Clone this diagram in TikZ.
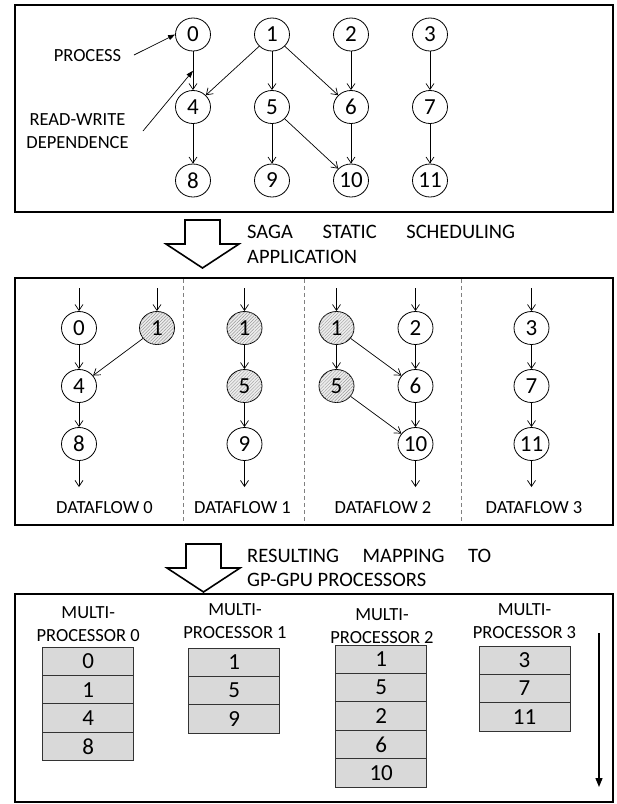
\documentclass[tikz,border=0pt]{standalone}
\usepackage{fontspec}
\setmainfont{Carlito}
\usetikzlibrary{arrows.meta,patterns.meta,calc,shapes.geometric}

\begin{document}
\begin{tikzpicture}[x=1pt,y=-1pt,
  frame/.style={draw, line width=2pt},
  proc/.style={draw, ellipse, line width=0.8pt, minimum width=35, minimum height=33,
    inner sep=0, font=\fontsize{23}{23}\selectfont, fill=white},
  shared/.style={proc, fill=gray!14,
    postaction={pattern={Lines[angle=45,distance=2.3pt,line width=0.45pt]}, pattern color=gray!80}},
  dep/.style={-{Straight Barb[length=6pt,width=8pt]}, line width=0.7pt},
  note/.style={-{Triangle[length=7pt,width=5pt]}, line width=0.7pt},
  lbl/.style={font=\fontsize{18.5}{23}\selectfont, align=center, inner sep=0},
  captxt/.style={font=\fontsize{20.5}{24.5}\selectfont, inner sep=0, anchor=base west},
  slot/.style={draw=black!80, fill=black!15, line width=0.8pt, minimum width=91,
    minimum height=28.4, inner sep=0, font=\fontsize{23}{23}\selectfont},
  sep/.style={draw=gray, line width=0.7pt, dash pattern=on 4pt off 3pt},
  bigdown/.pic={\draw[line width=1.6pt, fill=white, line join=miter]
    (-17.5,0) -- (17.5,0) -- (17.5,24) -- (36.5,24) -- (0,48) -- (-36.5,24) -- (-17.5,24) -- cycle;}
]
\useasboundingbox (0,0) rectangle (617,804);

% ---------- process graph ----------
\draw[frame] (15,5) rectangle (613,212);
\foreach \n/\x/\y in {0/193/34.5, 1/272/34.5, 2/351/34.5, 3/430/34.5,
                      4/193/107, 5/272/107, 6/351/107, 7/430/107,
                      8/193/180.5, 9/272/180.5, 10/351/180.5, 11/430/180.5}
  \node[proc] (g\n) at (\x,\y) {\n};
\foreach \a/\b in {0/4, 1/4, 1/5, 1/6, 2/6, 3/7, 4/8, 5/9, 5/10, 6/10, 7/11}
  \draw[dep] (g\a) -- (g\b);

\node[lbl] (lproc) at (87.5,56) {PROCESS};
\node[lbl] (lrw) at (77.5,131.5) {READ-WRITE\\DEPENDENCE};
\coordinate (procstart) at (134,55);
\coordinate (rwstart) at (143,131);
\coordinate (rwtip) at ($(g0)!0.5!(g4)$);
\draw[note] (procstart) -- (g0.west);
\draw[note] (rwstart) -- (rwtip);

% ---------- scheduling step ----------
\pic at (202.5,220) {bigdown};
\node[captxt] (c1a) at (247,238) {\makebox[268pt][s]{SAGA STATIC SCHEDULING}};
\node[captxt] (c1b) at (247,263) {APPLICATION};

% ---------- dataflows ----------
\draw[frame] (15,278) rectangle (613,525);
\foreach \xx [count=\k] in {183.5,304.5,461.5} {
  \coordinate (st\k) at (\xx,279);
  \coordinate (sb\k) at (\xx,524);
  \draw[sep] (st\k) -- (sb\k);
}
% dataflow 0
\node[proc]   (a0)  at (79,328)  {0};
\node[shared] (a1)  at (157,328) {1};
\node[proc]   (a4)  at (79,386)  {4};
\node[proc]   (a8)  at (79,444)  {8};
% dataflow 1
\node[shared] (b1)  at (244.5,328) {1};
\node[shared] (b5)  at (244.5,386) {5};
\node[proc]   (b9)  at (244.5,444) {9};
% dataflow 2
\node[shared] (c1)  at (336.5,328) {1};
\node[proc]   (c2)  at (415.5,328) {2};
\node[shared] (c5)  at (336.5,386) {5};
\node[proc]   (c6)  at (415.5,386) {6};
\node[proc]   (c10) at (415.5,444) {10};
% dataflow 3
\node[proc]   (d3)  at (531.5,328) {3};
\node[proc]   (d7)  at (531.5,386) {7};
\node[proc]   (d11) at (531.5,444) {11};

\foreach \n in {a0,a1,b1,c1,c2,d3} {
  \coordinate (in-\n) at ($(\n)+(0,-40)$);
  \draw[dep] (in-\n) -- (\n);
}
\foreach \n in {a8,b9,c10,d11} {
  \coordinate (out-\n) at ($(\n)+(0,43)$);
  \draw[dep] (\n) -- (out-\n);
}
\foreach \a/\b in {a0/a4, a1/a4, a4/a8, b1/b5, b5/b9, c1/c5, c1/c6, c2/c6, c5/c10, c6/c10, d3/d7, d7/d11}
  \draw[dep] (\a) -- (\b);

\node[lbl] (df0) at (104.5,508) {DATAFLOW 0};
\node[lbl] (df1) at (242.5,508) {DATAFLOW 1};
\node[lbl] (df2) at (383,508)   {DATAFLOW 2};
\node[lbl] (df3) at (534,508)   {DATAFLOW 3};

% ---------- mapping step ----------
\pic at (203.5,544) {bigdown};
\node[captxt] (c2a) at (247,562) {\makebox[244pt][s]{RESULTING MAPPING TO}};
\node[captxt] (c2b) at (247,586) {GP-GPU PROCESSORS};

% ---------- multiprocessors ----------
\draw[frame] (15,594) rectangle (613,802);
\node[lbl] (mp0) at (88.2,624) {MULTI-\\PROCESSOR 0};
\node[lbl] (mp1) at (235,621)  {MULTI-\\PROCESSOR 1};
\node[lbl] (mp2) at (382,626)  {MULTI-\\PROCESSOR 2};
\node[lbl] (mp3) at (524.5,621) {MULTI-\\PROCESSOR 3};

\foreach \v [count=\i] in {0,1,4,8}
  \node[slot] (p0-\i) at (88.2,{661.2+(\i-1)*28.4}) {\v};
\foreach \v [count=\i] in {1,5,9}
  \node[slot] (p1-\i) at (234.2,{662.2+(\i-1)*28.4}) {\v};
\foreach \v [count=\i] in {1,5,2,6,10}
  \node[slot] (p2-\i) at (381.2,{659.2+(\i-1)*28.4}) {\v};
\foreach \v [count=\i] in {3,7,11}
  \node[slot] (p3-\i) at (524.5,{660.2+(\i-1)*28.4}) {\v};

\coordinate (tA) at (599,633);
\coordinate (tB) at (599,787);
\draw[line width=1.3pt, -{Triangle[length=9pt,width=7pt]}] (tA) -- (tB);
\end{tikzpicture}
\end{document}
